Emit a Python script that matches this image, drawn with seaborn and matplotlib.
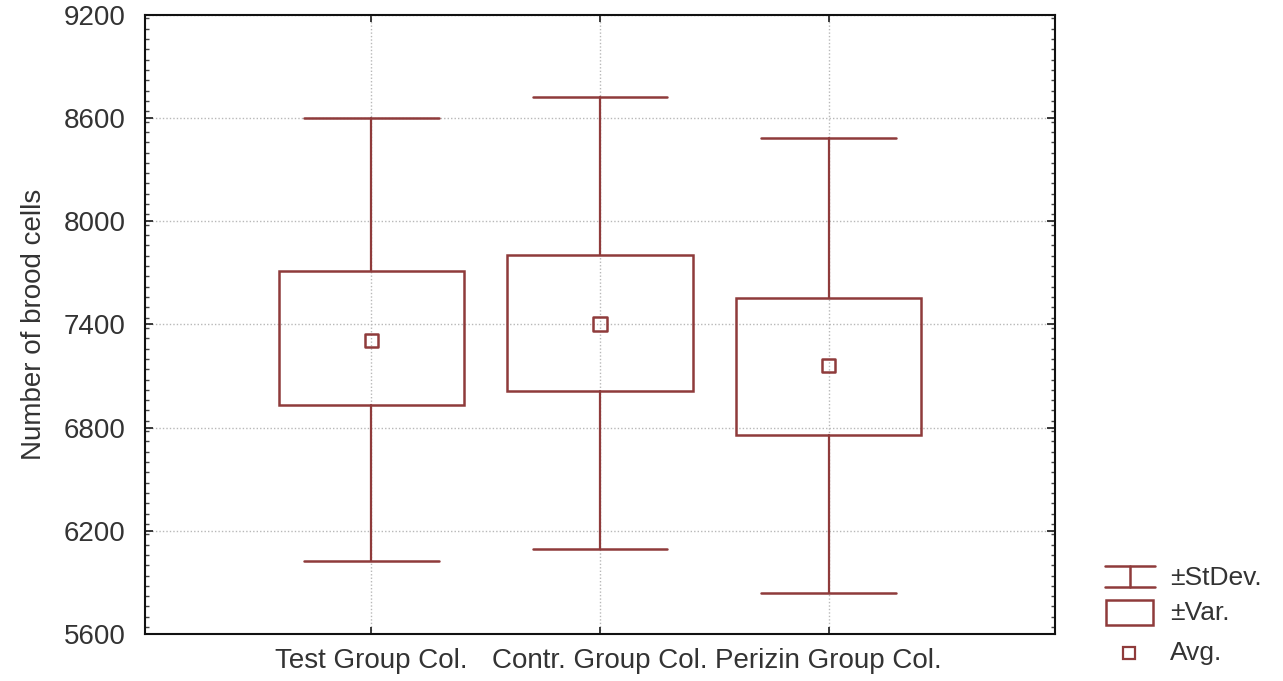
import matplotlib
matplotlib.use("Agg")
import matplotlib.pyplot as plt
import seaborn as sns
import pandas as pd
import numpy as np
from matplotlib.ticker import MultipleLocator
from matplotlib.lines import Line2D
from matplotlib.patches import Rectangle

# ---- data ----
groups = ["Test Group Col.", "Contr. Group Col.", "Perizin Group Col."]
avg = [7305, 7403, 7160]
var_low = [6932, 7014, 6758]
var_high = [7711, 7805, 7555]
sd_low = [6025, 6094, 5838]
sd_high = [8598, 8724, 8485]
y_ticks = [5600, 6200, 6800, 7400, 8000, 8600, 9200]
y_label = "Number of brood cells"
legend_labels = ["±StDev.", "±Var.", "Avg."]

COLOR = "#8f3b3b"
TXT = "#333333"

sns.set_theme(style="white")
plt.rcParams["font.family"] = ["Liberation Sans", "DejaVu Sans"]

fig = plt.figure(figsize=(12.83, 6.81), dpi=100)
ax = fig.add_axes([0.113, 0.069, 0.7093, 0.909])

df = pd.DataFrame({"group": groups, "avg": avg})
pos = np.arange(len(groups))

box_w = 0.81
cap_w = 0.59
for i in pos:
    # whiskers
    ax.plot([i, i], [sd_low[i], var_low[i]], color=COLOR, lw=1.6, zorder=3)
    ax.plot([i, i], [var_high[i], sd_high[i]], color=COLOR, lw=1.6, zorder=3)
    ax.plot([i - cap_w / 2, i + cap_w / 2], [sd_low[i]] * 2, color=COLOR, lw=1.8, zorder=3)
    ax.plot([i - cap_w / 2, i + cap_w / 2], [sd_high[i]] * 2, color=COLOR, lw=1.8, zorder=3)
    ax.add_patch(Rectangle((i - box_w / 2, var_low[i]), box_w, var_high[i] - var_low[i],
                           facecolor="none", edgecolor=COLOR, lw=1.8, zorder=3))

sns.scatterplot(data=df, x=pos, y="avg", marker="s", s=90, facecolor="none",
                edgecolor=COLOR, linewidth=1.8, ax=ax, zorder=4, legend=False)

ax.set_xlim(-0.99, 2.99)
ax.set_ylim(5600, 9200)
ax.set_xticks(pos)
ax.set_xticklabels(groups)
ax.set_yticks(y_ticks)
ax.yaxis.set_minor_locator(MultipleLocator(60))
ax.set_xlabel("")
ax.set_ylabel(y_label, fontsize=20, color=TXT, labelpad=12)
ax.tick_params(axis="both", labelsize=20, labelcolor=TXT)
ax.tick_params(axis="y", which="major", direction="in", length=6, left=True, right=True, color="#222222", pad=14)
ax.tick_params(axis="y", which="minor", direction="in", length=3, left=True, right=True, color="#444444")
ax.tick_params(axis="x", which="major", direction="in", length=5, bottom=True, top=True, color="#222222", pad=10)
ax.grid(True, which="major", axis="both", color="#b8b8b8", linestyle=(0, (1, 1.5)), lw=1.0)
ax.set_axisbelow(True)
for s in ax.spines.values():
    s.set_color("#111111")
    s.set_linewidth(1.5)

# ---- legend (drawn at right bottom, outside axes) ----
ft = fig.transFigure
W, H = 1283, 681
def fx(px): return px / W
def fy(py): return 1 - py / H
lw = 1.8
# StDev symbol
fig.add_artist(Line2D([fx(1105), fx(1155)], [fy(566)] * 2, color=COLOR, lw=lw, transform=ft))
fig.add_artist(Line2D([fx(1105), fx(1155)], [fy(587)] * 2, color=COLOR, lw=lw, transform=ft))
fig.add_artist(Line2D([fx(1130), fx(1130)], [fy(566), fy(587)], color=COLOR, lw=lw, transform=ft))
# Var symbol
fig.add_artist(Rectangle((fx(1106), fy(625)), fx(1153) - fx(1106), fy(600) - fy(625),
                         facecolor="none", edgecolor=COLOR, lw=lw, transform=ft))
# Avg symbol
fig.add_artist(Line2D([fx(1129)], [fy(653)], marker="s", markersize=9, markerfacecolor="none",
                      markeredgecolor=COLOR, markeredgewidth=1.6, transform=ft))
for lab, py in zip(legend_labels, [578, 613, 653]):
    fig.text(fx(1170), fy(py), lab, fontsize=19, color=TXT, va="center", ha="left")

fig.savefig("out.png", dpi=100)
